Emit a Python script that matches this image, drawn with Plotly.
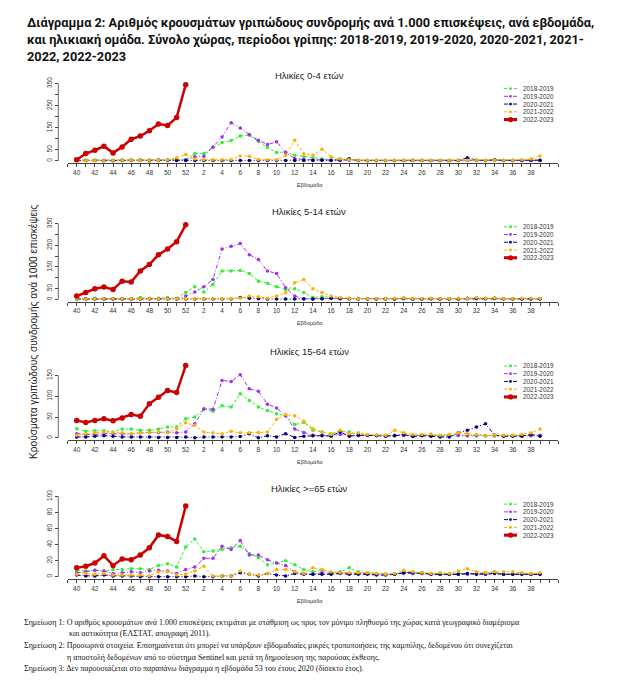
import plotly.graph_objects as go

W, H = 620, 686

# ---------------- data ----------------
weeks = list(range(40, 53)) + list(range(1, 40))
seasons = ["2018-2019", "2019-2020", "2020-2021", "2021-2022", "2022-2023"]
panel_titles = ["Ηλικίες 0-4 ετών", "Ηλικίες 5-14 ετών", "Ηλικίες 15-64 ετών", "Ηλικίες >=65 ετών"]

# Ages 0-4
a04_1819 = [3,3,3,2,3,4,5,5,4,5,5,4,5] + [33,33,60,83,92,113,116,89,60,38,40,25,18,14] + [8,5,8,5,2,2,2,2,2,2,4,3,2,2,2,2,2,2,2,3,2,2,2,2,3]
a04_1920 = [3,2,2,3,2,3,3,3,3,4,4,3,4] + [18,21,63,108,173,149,119,93,74,86,38,10,6,4] + [4,3,3,3,2,2,2,2,2,2,2,2,2,2,2,2,2,2,2,2,2,2,2,2,2]
a04_2021 = [1,1,1,0,0,1,1,1,0,1,1,1,1] + [1,1,1,1,1,1,1,1,1,1,1,2,1,2] + [3,2,3,9,1,1,1,1,1,1,1,1,1,1,1,1,14,3,2,5,2,2,2,3,3]
a04_2122 = [2,2,2,2,2,3,3,2,3,3,4,14,29] + [8,5,5,5,6,22,21,6,5,5,25,93,32,25] + [53,18,8,5,3,3,3,3,3,3,3,3,3,3,3,3,3,3,3,3,3,3,5,8,22]
a04_2223 = [5,33,48,66,36,63,98,112,136,167,160,196,345]

# Ages 5-14
a514_1819 = [2,3,5,4,3,3,3,8,4,5,8,5,31] + [58,34,69,131,131,134,120,84,74,58,46,49,31,8] + [12,8,5,4,3,3,3,3,3,3,3,3,3,3,3,3,3,3,3,3,3,3,3,3,3]
a514_1920 = [3,3,4,3,3,3,3,3,4,4,4,3,15] + [34,58,92,233,246,258,207,184,131,120,54,15,3,2] + [3,4,4,3,3,3,3,3,3,3,3,3,3,3,3,3,3,6,3,5,3,3,3,3,3]
a514_2021 = [1,1,1,1,1,1,1,1,1,1,1,1,1] + [1,1,1,1,2,8,5,3,2,1,1,1,1,1] + [3,5,3,3,2,2,2,2,2,5,2,2,3,2,2,2,5,5,4,5,3,2,2,2,2]
a514_2122 = [2,2,3,3,3,3,3,3,3,3,3,3,3] + [3,3,3,3,3,5,15,12,5,15,30,77,92,49] + [31,15,8,5,3,3,4,3,5,6,4,4,5,4,4,5,4,8,5,6,4,3,5,5,4]
a514_2223 = [15,31,49,57,46,84,80,131,161,207,233,267,345]

# Ages 15-64
a1564_1819 = [22,16,17,17,14,21,21,18,18,21,26,26,46] + [50,69,64,77,74,106,90,74,66,58,53,32,37,18] + [14,10,16,14,8,6,6,5,5,6,5,6,5,5,5,5,5,5,5,5,5,5,5,6,5]
a1564_1920 = [10,8,8,10,10,10,9,12,13,13,14,12,14] + [34,70,69,138,136,152,118,112,81,72,53,21,13,6] + [6,6,8,6,5,6,6,5,6,5,5,6,5,5,5,6,5,5,5,5,5,5,5,5,6]
a1564_2021 = [2,2,4,5,4,2,2,2,2,1,1,1,2] + [0,2,2,2,2,3,10,0,5,2,10,1,4,5] + [5,4,14,4,6,6,5,4,5,8,3,5,4,2,2,12,18,26,34,6,4,4,4,8,4]
a1564_2122 = [6,10,12,14,13,12,10,12,13,14,12,22,36] + [30,14,12,9,16,12,12,13,14,45,56,53,40,22] + [14,8,18,10,12,8,7,6,18,12,8,8,9,6,8,12,10,8,6,6,6,6,8,12,21]
a1564_2223 = [42,37,42,46,41,48,56,52,82,98,114,109,174]

# Ages >=65
a65_1819 = [8,7,8,7,9,9,10,10,9,14,16,12,37] + [47,31,32,34,36,38,29,24,15,17,20,15,9,6] + [8,5,6,11,6,5,4,3,3,6,4,5,4,3,3,4,4,4,5,6,3,3,4,3,3]
a65_1920 = [5,6,8,7,4,5,6,5,7,8,7,4,9] + [12,23,23,38,34,45,27,27,21,17,14,6,4,3] + [5,4,5,4,4,4,3,3,3,4,4,5,3,3,3,3,3,4,4,4,3,3,3,3,3]
a65_2021 = [2,1,1,2,1,1,1,0,0,0,0,0,0] + [1,0,0,1,1,5,3,1,4,2,1,4,3,3] + [3,3,4,3,3,3,2,2,3,5,5,4,3,3,3,3,4,3,3,4,3,3,3,3,3]
a65_2122 = [3,4,3,4,2,2,2,2,1,6,6,2,3] + [7,13,1,1,1,7,3,2,4,9,9,6,4,11] + [9,6,5,5,5,5,4,3,4,8,6,5,4,5,4,7,10,6,5,6,6,6,5,4,5]
a65_2223 = [11,13,17,26,14,22,21,27,36,52,50,44,88]

panel_data = [
    [a04_1819, a04_1920, a04_2021, a04_2122, a04_2223],
    [a514_1819, a514_1920, a514_2021, a514_2122, a514_2223],
    [a1564_1819, a1564_1920, a1564_2021, a1564_2122, a1564_2223],
    [a65_1819, a65_1920, a65_2021, a65_2122, a65_2223],
]
ytick_vals = [
    [0, 50, 100, 150, 200, 250, 300, 350],
    [0, 50, 100, 150, 200, 250, 300, 350],
    [0, 50, 100, 150],
    [0, 20, 40, 60, 80, 100],
]
ytick_text = [
    ["0", "50", "", "150", "", "250", "", "350"],
    ["0", "50", "", "150", "", "250", "", "350"],
    ["0", "50", "100", "150"],
    ["0", "20", "40", "60", "80", "100"],
]

# ---------------- styles / layout geometry ----------------
colors = ["#33EE33", "#A030F0", "#00007F", "#FFB000", "#CC0000"]
dashes = ["3px,2px", "4px,2px,1px,2px", "4px,2px,1px,2px", "3px,2px", "solid"]
lwidths = [1.0, 1.0, 1.0, 1.0, 2.5]
msizes = [3.5, 3.5, 3.5, 3.5, 5.5]

SH = -3  # vertical fine shift of the panels (px)
# per panel: zero px, px per unit, x-axis line px, top value, title y, legend top y
geom = [
    dict(zero=160.7 + SH, scale=77.7 / 350, line=163.3 + SH, ytop=365, ty=74.5 + SH, ly=88.0 + SH),
    dict(zero=300.0 + SH, scale=76.0 / 350, line=302.3 + SH, ytop=365, ty=211.5 + SH, ly=227.0 + SH),
    dict(zero=439.3 + SH, scale=62.6 / 150, line=441.7 + SH, ytop=185, ty=352.0 + SH, ly=367.0 + SH),
    dict(zero=579.0 + SH, scale=80.7 / 100, line=581.7 + SH, ytop=104, ty=490.0 + SH, ly=506.0 + SH),
]

OFF = 8  # page body margin of the html page


def px(x):
    return (x - OFF) / W


def py(y):
    return 1 - (y - OFF) / H


XL, XR = 67.6, 558.2          # x-axis line extent (px), covers positions -1 .. 53
YAX = 58.3                     # y-axis line position (px)

xpos = list(range(len(weeks)))
xtickvals = list(range(-1, len(weeks) + 2))
xticktext = [str(weeks[v]) if 0 <= v < len(weeks) and weeks[v] % 2 == 0 else "" for v in xtickvals]

tickfont = dict(family="Liberation Sans", size=6.5, color="#333333")

fig = go.Figure()
layout = dict(
    width=W, height=H, margin=dict(l=0, r=0, t=0, b=0),
    paper_bgcolor="white", plot_bgcolor="white", showlegend=False,
    shapes=[], annotations=[],
)

for i, g in enumerate(geom):
    n = i + 1
    xa = "xaxis" if n == 1 else f"xaxis{n}"
    ya = "yaxis" if n == 1 else f"yaxis{n}"
    xr = "x" if n == 1 else f"x{n}"
    yr = "y" if n == 1 else f"y{n}"
    ybot = -(g["line"] - g["zero"]) / g["scale"]
    top_px = g["zero"] - g["ytop"] * g["scale"]
    layout[xa] = dict(
        domain=[px(XL), px(XR)], range=[-1, len(weeks) + 1], anchor=yr,
        showline=True, linecolor="#444444", linewidth=0.8, showgrid=False, zeroline=False,
        ticks="outside", ticklen=3, tickwidth=0.7, tickcolor="#444444",
        tickmode="array", tickvals=xtickvals, ticktext=xticktext, tickfont=tickfont,
        ticklabelstandoff=0,
    )
    layout[ya] = dict(
        domain=[py(g["line"]), py(top_px)], range=[ybot, g["ytop"]], anchor="free",
        position=px(YAX), showline=False, showgrid=False, zeroline=False,
        ticks="outside", ticklen=3, tickwidth=0.7, tickcolor="#444444",
        tickmode="array", tickvals=ytick_vals[i], ticktext=ytick_text[i],
        tickfont=tickfont, tickangle=-90, ticklabelstandoff=1,
    )
    layout["shapes"].append(dict(
        type="line", xref="paper", yref=yr, x0=px(YAX), x1=px(YAX),
        y0=ytick_vals[i][0], y1=ytick_vals[i][-1], line=dict(color="#444444", width=0.8),
    ))
    for k, (name, vals) in enumerate(zip(seasons, panel_data[i])):
        fig.add_trace(go.Scatter(
            x=xpos[:len(vals)], y=vals, name=name, mode="lines+markers",
            xaxis=xr, yaxis=yr,
            line=dict(color=colors[k], width=lwidths[k], dash=dashes[k]),
            marker=dict(color=colors[k], size=msizes[k]),
        ))
    # panel title
    layout["annotations"].append(dict(
        text=panel_titles[i], x=px(309), y=py(g["ty"]), xref="paper", yref="paper",
        xanchor="center", yanchor="middle", showarrow=False,
        font=dict(family="Liberation Sans", size=9.5, color="#222222"),
    ))
    # x-axis title
    layout["annotations"].append(dict(
        text="Εβδομάδα", x=px(310), y=py(g["line"] + 22), xref="paper", yref="paper",
        xanchor="center", yanchor="middle", showarrow=False,
        font=dict(family="Liberation Sans", size=5.5, color="#333333"),
    ))
    # legend
    for k, name in enumerate(seasons):
        yy = py(g["ly"] + k * 7.8)
        layout["shapes"].append(dict(
            type="line", xref="paper", yref="paper", x0=px(504), x1=px(517), y0=yy, y1=yy,
            line=dict(color=colors[k], width=lwidths[k] + (0.6 if k == 4 else 0), dash=dashes[k]),
        ))
        r = 2.6 if k == 4 else 1.4
        layout["shapes"].append(dict(
            type="circle", xref="paper", yref="paper", xsizemode="pixel", ysizemode="pixel",
            xanchor=px(510.5), yanchor=yy, x0=-r, x1=r, y0=-r, y1=r,
            fillcolor=colors[k], line=dict(width=0),
        ))
        layout["annotations"].append(dict(
            text=name, x=px(521), y=yy, xref="paper", yref="paper",
            xanchor="left", yanchor="middle", showarrow=False,
            font=dict(family="Liberation Sans", size=6.4, color="#333333"),
        ))

# main title
title_lines = [
    "Διάγραμμα 2: Αριθμός κρουσμάτων γριπώδους συνδρομής ανά 1.000 επισκέψεις, ανά εβδομάδα,",
    "και ηλικιακή ομάδα. Σύνολο χώρας, περίοδοι γρίπης: 2018-2019, 2019-2020, 2020-2021, 2021-",
    "2022, 2022-2023",
]
for j, t in enumerate(title_lines):
    layout["annotations"].append(dict(
        text="<b>" + t + "</b>", x=px(25), y=py(19 + j * 16.8), xref="paper", yref="paper",
        xanchor="left", yanchor="middle", showarrow=False,
        font=dict(family="Roboto", size=12.75, color="#111111"),
    ))

# y-axis title
layout["annotations"].append(dict(
    text="Κρούσματα γριπώδους συνδρομής ανά 1000 επισκέψεις", x=px(33), y=py(330),
    xref="paper", yref="paper", xanchor="center", yanchor="middle", showarrow=False,
    textangle=-90, font=dict(family="Liberation Sans", size=10.2, color="#222222"),
))

# notes
notes = [
    (22, "Σημείωση 1: Ο αριθμός κρουσμάτων ανά 1.000 επισκέψεις εκτιμάται με στάθμιση ως προς τον μόνιμο πληθυσμό της χώρας κατά γεωγραφικό διαμέρισμα"),
    (67, "και αστικότητα (ΕΛΣΤΑΤ, απογραφή 2011)."),
    (22, "Σημείωση 2: Προσωρινά στοιχεία. Επισημαίνεται ότι μπορεί να υπάρξουν εβδομαδιαίες μικρές τροποποιήσεις της καμπύλης, δεδομένου ότι συνεχίζεται"),
    (65, "η αποστολή δεδομένων από το σύστημα Sentinel και μετά τη δημοσίευση της παρούσας έκθεσης."),
    (22, "Σημείωση 3: Δεν παρουσιάζεται στο παραπάνω διάγραμμα η εβδομάδα 53 του έτους 2020 (δίσεκτο έτος)."),
]
for j, (x0, t) in enumerate(notes):
    layout["annotations"].append(dict(
        text=t, x=px(x0), y=py(622 + j * 11.6), xref="paper", yref="paper",
        xanchor="left", yanchor="middle", showarrow=False,
        font=dict(family="Liberation Serif", size=8.0, color="#111111"),
    ))

fig.update_layout(**layout)
fig.write_html("out.html")
